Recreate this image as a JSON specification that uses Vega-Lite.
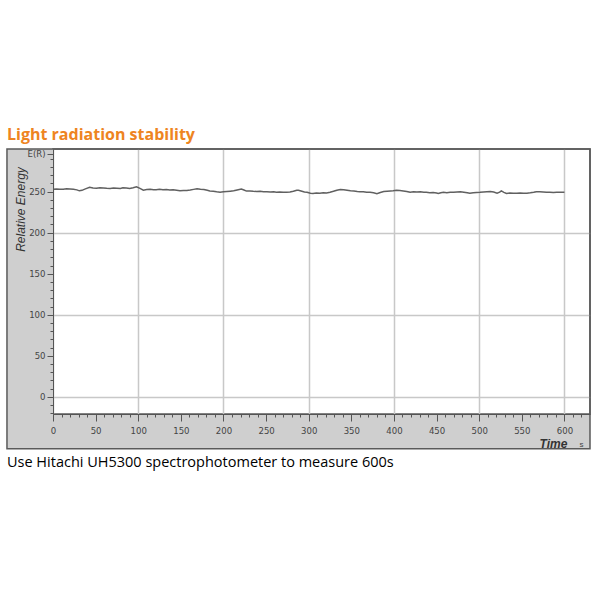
{
  "$schema": "https://vega.github.io/schema/vega-lite/v6.json",
  "width": 537,
  "height": 265,
  "autosize": {"type": "none"},
  "padding": {"left": 53, "top": 149, "right": 10, "bottom": 186},
  "background": "white",
  "title": {
    "text": "Light radiation stability",
    "anchor": "start",
    "frame": "group",
    "dx": -46,
    "dy": 18,
    "offset": 10,
    "baseline": "alphabetic",
    "font": "Open Sans",
    "fontSize": 16,
    "fontWeight": "bold",
    "color": "#EE8421"
  },
  "config": {
    "view": {"fill": "white", "stroke": "#5a5a5a", "strokeWidth": 1.5}
  },
  "resolve": {"axis": {"x": "independent", "y": "independent"}},
  "layer": [
    {
      "data": {"values": [{"panel": "left strip"}]},
      "mark": {"type": "rect", "clip": false, "fill": "#cfcfcf"},
      "encoding": {
        "x": {"datum": -54, "type": "quantitative", "scale": {"domain": [0, 630], "nice": false, "zero": false},
          "axis": {"orient": "top", "zindex": 0, "tickCount": 100, "values": [0,100,200,300,400,500,600], "grid": true, "gridColor": "#c8c8c8", "gridWidth": 1.5, "ticks": false, "labels": false, "domain": false, "title": null}},
        "x2": {"datum": 0},
        "y": {"datum": -63.5, "type": "quantitative", "scale": {"domain": [-21, 302], "nice": false, "zero": false},
          "axis": {"orient": "right", "zindex": 0, "tickCount": 100, "values": [0,100,200], "grid": true, "gridColor": "#c8c8c8", "gridWidth": 1.5, "ticks": false, "labels": false, "domain": false, "title": null}},
        "y2": {"datum": 302}
      }
    },
    {
      "data": {"values": [{"panel": "bottom strip"}]},
      "mark": {"type": "rect", "clip": false, "fill": "#cfcfcf"},
      "encoding": {
        "x": {"datum": 0, "type": "quantitative", "axis": null},
        "x2": {"datum": 630},
        "y": {"datum": -63.5, "type": "quantitative", "axis": null},
        "y2": {"datum": -21}
      }
    },
    {
      "data": {"values": [{"panel": "outer frame"}]},
      "mark": {"type": "rect", "clip": false, "fill": "transparent", "stroke": "#5a5a5a", "strokeWidth": 1.5},
      "encoding": {
        "x": {"datum": -54, "type": "quantitative", "axis": null},
        "x2": {"datum": 630},
        "y": {"datum": -63.5, "type": "quantitative", "axis": null},
        "y2": {"datum": 302}
      }
    },
    {
      "data": {"values": [
        {"t":0,"e":253.0},{"t":4,"e":253.2},{"t":8,"e":252.8},{"t":12,"e":253.0},{"t":16,"e":253.4},{"t":20,"e":253.2},{"t":24,"e":252.9},{"t":28,"e":252.2},{"t":31,"e":251.0},{"t":34,"e":251.6},{"t":38,"e":253.4},{"t":43,"e":255.4},{"t":47,"e":254.6},{"t":51,"e":254.3},{"t":55,"e":254.9},{"t":59,"e":254.6},{"t":63,"e":254.1},{"t":67,"e":254.0},{"t":71,"e":254.5},{"t":75,"e":254.3},{"t":79,"e":254.0},{"t":82,"e":254.7},{"t":86,"e":254.4},{"t":90,"e":254.0},{"t":94,"e":254.8},{"t":98,"e":256.0},{"t":102,"e":254.0},{"t":106,"e":251.8},{"t":110,"e":252.6},{"t":114,"e":253.0},{"t":118,"e":252.4},{"t":121,"e":252.2},{"t":125,"e":252.8},{"t":129,"e":252.4},{"t":133,"e":252.6},{"t":137,"e":252.0},{"t":141,"e":252.3},{"t":145,"e":251.8},{"t":149,"e":251.2},{"t":153,"e":251.4},{"t":157,"e":251.4},{"t":161,"e":252.0},{"t":165,"e":252.8},{"t":169,"e":253.5},{"t":173,"e":253.0},{"t":177,"e":252.6},{"t":181,"e":251.6},{"t":184,"e":250.9},{"t":188,"e":250.4},{"t":192,"e":249.8},{"t":196,"e":249.4},{"t":200,"e":249.8},{"t":204,"e":250.2},{"t":208,"e":250.6},{"t":212,"e":251.0},{"t":216,"e":252.0},{"t":221,"e":253.1},{"t":224,"e":252.0},{"t":227,"e":250.7},{"t":231,"e":250.9},{"t":235,"e":250.4},{"t":239,"e":250.3},{"t":243,"e":250.6},{"t":247,"e":250.0},{"t":251,"e":249.9},{"t":255,"e":249.6},{"t":259,"e":249.8},{"t":262,"e":249.4},{"t":266,"e":249.6},{"t":270,"e":249.2},{"t":274,"e":249.4},{"t":278,"e":249.6},{"t":282,"e":250.4},{"t":286,"e":251.6},{"t":288,"e":251.8},{"t":292,"e":250.6},{"t":295,"e":249.6},{"t":298,"e":249.2},{"t":302,"e":248.0},{"t":305,"e":247.8},{"t":309,"e":248.4},{"t":313,"e":248.2},{"t":317,"e":248.6},{"t":321,"e":248.4},{"t":325,"e":249.2},{"t":329,"e":250.4},{"t":333,"e":251.8},{"t":337,"e":252.6},{"t":341,"e":252.2},{"t":345,"e":251.6},{"t":349,"e":251.0},{"t":353,"e":250.8},{"t":357,"e":250.2},{"t":360,"e":250.0},{"t":364,"e":249.8},{"t":368,"e":249.4},{"t":372,"e":249.2},{"t":376,"e":248.6},{"t":380,"e":247.5},{"t":384,"e":249.0},{"t":388,"e":250.2},{"t":392,"e":250.6},{"t":396,"e":250.8},{"t":399,"e":251.0},{"t":403,"e":251.6},{"t":407,"e":251.4},{"t":411,"e":250.8},{"t":415,"e":250.2},{"t":419,"e":249.2},{"t":423,"e":249.8},{"t":427,"e":249.6},{"t":431,"e":250.0},{"t":435,"e":249.4},{"t":438,"e":249.2},{"t":442,"e":248.8},{"t":446,"e":249.0},{"t":450,"e":248.4},{"t":452,"e":247.8},{"t":455,"e":248.6},{"t":458,"e":249.2},{"t":462,"e":248.6},{"t":466,"e":249.4},{"t":470,"e":249.2},{"t":474,"e":249.6},{"t":478,"e":250.0},{"t":482,"e":249.4},{"t":486,"e":248.8},{"t":489,"e":248.2},{"t":493,"e":248.6},{"t":497,"e":249.0},{"t":501,"e":249.2},{"t":505,"e":249.6},{"t":509,"e":250.0},{"t":513,"e":250.3},{"t":517,"e":249.6},{"t":521,"e":248.2},{"t":524,"e":249.4},{"t":526,"e":251.0},{"t":529,"e":249.2},{"t":532,"e":247.8},{"t":536,"e":248.4},{"t":540,"e":248.0},{"t":544,"e":248.2},{"t":548,"e":248.4},{"t":552,"e":248.0},{"t":556,"e":248.2},{"t":560,"e":248.6},{"t":564,"e":249.2},{"t":567,"e":250.0},{"t":571,"e":249.8},{"t":575,"e":249.6},{"t":579,"e":249.2},{"t":583,"e":249.4},{"t":587,"e":249.0},{"t":591,"e":249.2},{"t":595,"e":249.4},{"t":599,"e":249.2},{"t":600,"e":249.2}
      ]},
      "mark": {"type": "line", "color": "#606060", "strokeWidth": 1.5},
      "encoding": {
        "x": {
          "field": "t", "type": "quantitative",
          "axis": {
            "orient": "bottom",
            "zindex": 1,
            "tickCount": 200,
            "values": [0,10,20,30,40,50,60,70,80,90,100,110,120,130,140,150,160,170,180,190,200,210,220,230,240,250,260,270,280,290,300,310,320,330,340,350,360,370,380,390,400,410,420,430,440,450,460,470,480,490,500,510,520,530,540,550,560,570,580,590,600,610,620],
            "labelExpr": "datum.value % 50 === 0 ? datum.label : ''",
            "labelOverlap": false,
            "labelFlush": false,
            "labelBound": false,
            "labelFont": "DejaVu Sans Condensed, Liberation Sans, sans-serif",
            "labelFontSize": 9.5,
            "labelColor": "#444444",
            "labelPadding": 4,
            "domainColor": "#555555",
            "domainWidth": 1.2,
            "tickColor": "#555555",
            "tickSize": {"condition": {"test": "datum.value % 50 === 0", "value": 7}, "value": 3},
            "grid": false,
            "title": "Time",
            "titleX": 500,
            "titleY": 29,
            "titleAlign": "center",
            "titleBaseline": "middle",
            "titleFont": "Liberation Sans",
            "titleFontSize": 12,
            "titleFontStyle": "italic",
            "titleFontWeight": "bold",
            "titleColor": "#333333"
          }
        },
        "y": {
          "field": "e", "type": "quantitative",
          "axis": {
            "orient": "left",
            "zindex": 1,
            "tickCount": 200,
            "values": [-20,-10,0,10,20,30,40,50,60,70,80,90,100,110,120,130,140,150,160,170,180,190,200,210,220,230,240,250,260,270,280,290,296],
            "labelExpr": "datum.value === 296 ? 'E(R)' : (datum.value % 50 === 0 ? datum.label : '')",
            "labelOverlap": false,
            "labelFlush": false,
            "labelBound": false,
            "labelFont": "DejaVu Sans Condensed, Liberation Sans, sans-serif",
            "labelFontSize": 9.5,
            "labelColor": "#444444",
            "labelPadding": 2,
            "domainColor": "#555555",
            "tickColor": "#555555",
            "tickSize": {"condition": {"test": "datum.value % 50 === 0 || datum.value === 296", "value": 6}, "value": 3},
            "grid": false,
            "title": "Relative Energy",
            "titleX": -33,
            "titleY": 60,
            "titleAngle": 270,
            "titleAlign": "center",
            "titleBaseline": "middle",
            "titleFont": "Liberation Sans",
            "titleFontSize": 12,
            "titleFontStyle": "italic",
            "titleFontWeight": "normal",
            "titleColor": "#333333"
          }
        }
      }
    },
    {
      "data": {"values": [{"unit": "s"}]},
      "mark": {"type": "text", "clip": false, "font": "Liberation Sans", "fontSize": 8, "color": "#444444", "align": "center", "baseline": "middle"},
      "encoding": {
        "x": {"datum": 620, "type": "quantitative", "axis": null},
        "y": {"datum": -58.5, "type": "quantitative", "axis": null},
        "text": {"field": "unit"}
      }
    },
    {
      "data": {"values": [{"caption": "Use Hitachi UH5300 spectrophotometer to measure 600s"}]},
      "mark": {"type": "text", "clip": false, "font": "Open Sans", "fontSize": 14.5, "color": "#000000", "align": "left", "baseline": "middle"},
      "encoding": {
        "x": {"datum": -54, "type": "quantitative", "axis": null},
        "y": {"datum": -80.7, "type": "quantitative", "axis": null},
        "text": {"field": "caption"}
      }
    }
  ]
}
